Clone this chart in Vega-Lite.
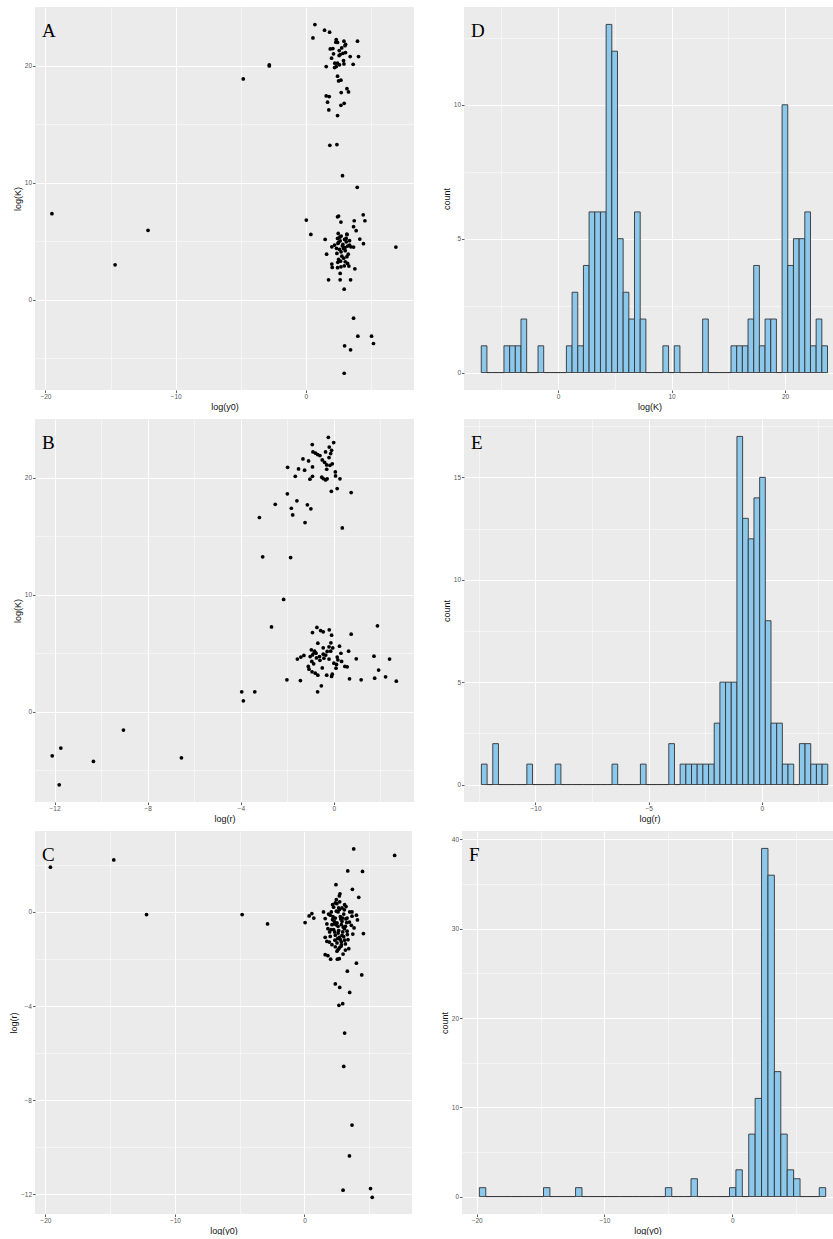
{
"$schema":"https://vega.github.io/schema/vega-lite/v6.json",
"background":"white",
"padding":{"left":9,"top":7,"right":0,"bottom":0},
"spacing":8,
"datasets":{
"A":[
{"y0":-19.5,"K":7.35},{"y0":-14.65,"K":2.99},{"y0":-12.12,"K":5.93},{"y0":-4.81,"K":18.86},{"y0":-2.81,"K":20.05},{"y0":-2.81,"K":19.97},
{"y0":0.69,"K":23.5},{"y0":0.54,"K":22.36},{"y0":1.43,"K":23.02},{"y0":1.82,"K":22.85},{"y0":2.33,"K":22.22},{"y0":2.43,"K":21.97},{"y0":2.92,"K":22.08},{"y0":3.96,"K":22.08},{"y0":3.0,"K":21.7},{"y0":1.87,"K":21.42},{"y0":2.07,"K":21.45},{"y0":2.56,"K":21.28},{"y0":2.12,"K":21.0},{"y0":2.84,"K":21.05},{"y0":3.04,"K":21.11},{"y0":3.4,"K":20.77},{"y0":4.04,"K":20.77},{"y0":1.97,"K":20.63},{"y0":2.63,"K":20.94},{"y0":2.89,"K":20.43},{"y0":2.43,"K":20.2},{"y0":2.58,"K":20.06},{"y0":2.33,"K":19.91},{"y0":2.2,"K":19.83},{"y0":1.56,"K":19.91},{"y0":3.63,"K":20.11},{"y0":2.92,"K":20.14},{"y0":2.43,"K":19.09},{"y0":2.69,"K":18.75},{"y0":2.51,"K":18.69},{"y0":3.15,"K":18.03},{"y0":3.27,"K":17.75},{"y0":2.71,"K":17.69},{"y0":1.56,"K":17.41},{"y0":1.79,"K":17.35},{"y0":1.66,"K":16.87},{"y0":2.94,"K":16.78},{"y0":2.69,"K":16.61},{"y0":1.76,"K":16.21},{"y0":2.43,"K":15.73},{"y0":1.84,"K":13.19},{"y0":2.38,"K":13.25},{"y0":2.81,"K":10.6},{"y0":3.94,"K":9.6},
{"y0":0.03,"K":6.81},{"y0":0.38,"K":5.58},{"y0":2.43,"K":7.09},{"y0":2.51,"K":7.15},{"y0":2.69,"K":6.64},{"y0":3.71,"K":6.75},{"y0":3.66,"K":6.24},{"y0":4.4,"K":7.26},{"y0":4.53,"K":6.75},{"y0":3.86,"K":5.9},{"y0":1.48,"K":5.16},{"y0":6.91,"K":4.5},{"y0":4.14,"K":5.19},{"y0":4.42,"K":4.79},{"y0":2.43,"K":5.24},{"y0":2.71,"K":5.44},{"y0":3.15,"K":5.56},{"y0":2.97,"K":5.16},{"y0":2.63,"K":5.04},{"y0":2.2,"K":4.67},{"y0":1.99,"K":4.53},{"y0":2.46,"K":4.81},{"y0":2.84,"K":4.73},{"y0":3.2,"K":4.59},{"y0":3.45,"K":4.53},{"y0":3.66,"K":4.5},{"y0":2.89,"K":4.39},{"y0":2.58,"K":4.3},{"y0":3.02,"K":4.19},{"y0":1.59,"K":3.9},{"y0":2.38,"K":3.96},{"y0":2.76,"K":3.73},{"y0":3.15,"K":3.68},{"y0":2.51,"K":3.45},{"y0":2.66,"K":3.3},{"y0":3.02,"K":3.25},{"y0":3.2,"K":3.11},{"y0":1.99,"K":3.05},{"y0":2.02,"K":2.76},{"y0":2.43,"K":2.74},{"y0":2.69,"K":2.82},{"y0":3.3,"K":2.88},{"y0":3.76,"K":2.65},{"y0":2.63,"K":2.25},{"y0":1.74,"K":1.71},{"y0":2.63,"K":1.71},{"y0":3.43,"K":1.71},{"y0":2.94,"K":0.91},{"y0":2.48,"K":5.67},{"y0":3.09,"K":5.24},{"y0":3.35,"K":4.67},
{"y0":3.66,"K":-1.57},{"y0":3.99,"K":-3.11},{"y0":5.04,"K":-3.11},{"y0":5.19,"K":-3.73},{"y0":2.97,"K":-3.93},{"y0":3.43,"K":-4.27},{"y0":2.94,"K":-6.27},
{"y0":2.22,"K":20.2},{"y0":3.05,"K":21.8},{"y0":2.75,"K":21.5},{"y0":2.5,"K":4.9},{"y0":2.8,"K":4.6},{"y0":3.1,"K":4.95},{"y0":2.35,"K":4.4},{"y0":2.9,"K":3.55},{"y0":3.25,"K":3.9},{"y0":2.6,"K":5.35},{"y0":3.0,"K":4.45},{"y0":2.7,"K":4.1},{"y0":3.35,"K":5.05},{"y0":2.45,"K":3.2},{"y0":2.95,"K":2.9},{"y0":3.15,"K":5.6},{"y0":2.3,"K":22.0},{"y0":2.55,"K":20.85}
],
"B":[
{"r":-12.1,"K":-3.76},{"r":-11.73,"K":-3.1},{"r":-11.8,"K":-6.23},{"r":-10.33,"K":-4.24},{"r":-9.04,"K":-1.56},{"r":-6.55,"K":-3.93},{"r":-3.96,"K":1.71},{"r":-3.89,"K":0.94},{"r":-3.4,"K":1.71},{"r":-2.16,"K":9.59},{"r":-2.68,"K":7.25},{"r":-3.06,"K":13.23},{"r":-1.86,"K":13.17},{"r":-3.2,"K":16.59},{"r":-2.52,"K":17.72},{"r":-2.0,"K":18.61},{"r":-1.83,"K":17.38},{"r":-1.77,"K":16.81},{"r":-1.59,"K":18.01},{"r":-1.24,"K":16.16},{"r":-1.14,"K":17.67},{"r":-0.99,"K":17.33},{"r":0.36,"K":15.7},{"r":0.74,"K":18.72},{"r":-0.11,"K":18.83},{"r":0.14,"K":19.06},
{"r":-1.99,"K":20.88},{"r":-1.66,"K":20.11},{"r":-1.52,"K":20.74},{"r":-1.33,"K":21.59},{"r":-1.26,"K":20.63},{"r":-1.09,"K":21.42},{"r":-1.03,"K":19.86},{"r":-0.92,"K":20.91},{"r":-0.93,"K":22.82},{"r":-0.9,"K":22.19},{"r":-0.79,"K":22.08},{"r":-0.7,"K":21.96},{"r":-0.6,"K":21.88},{"r":-0.92,"K":20.11},{"r":-0.5,"K":21.51},{"r":-0.36,"K":22.19},{"r":-0.24,"K":23.44},{"r":-0.01,"K":22.99},{"r":-0.1,"K":22.33},{"r":-0.14,"K":22.05},{"r":-0.21,"K":21.71},{"r":-0.31,"K":21.08},{"r":-0.07,"K":21.17},{"r":-0.17,"K":21.05},{"r":-0.31,"K":20.71},{"r":-0.52,"K":20.03},{"r":-0.46,"K":19.91},{"r":-0.36,"K":19.8},{"r":-0.29,"K":19.89},{"r":0.06,"K":20.48},{"r":0.07,"K":20.14},{"r":0.26,"K":19.89},
{"r":-0.73,"K":7.2},{"r":-0.92,"K":6.77},{"r":-0.57,"K":6.94},{"r":-0.46,"K":6.83},{"r":-0.2,"K":7.0},{"r":-0.1,"K":6.54},{"r":0.74,"K":6.63},{"r":1.87,"K":7.34},{"r":-0.69,"K":5.86},{"r":-0.13,"K":5.89},{"r":0.24,"K":5.6},{"r":-0.46,"K":5.46},{"r":-0.21,"K":5.55},{"r":-0.97,"K":5.29},{"r":-0.83,"K":5.18},{"r":-0.77,"K":5.01},{"r":-0.92,"K":4.86},{"r":-1.02,"K":4.72},{"r":-0.62,"K":4.72},{"r":-0.46,"K":4.92},{"r":-0.29,"K":5.15},{"r":-0.14,"K":5.18},{"r":0.63,"K":5.18},{"r":-1.29,"K":4.81},{"r":-1.42,"K":4.67},{"r":-1.57,"K":4.5},{"r":-0.43,"K":4.58},{"r":-0.21,"K":4.5},{"r":0.14,"K":4.67},{"r":0.17,"K":4.44},{"r":0.33,"K":4.3},{"r":0.96,"K":4.52},{"r":1.72,"K":4.75},{"r":2.39,"K":4.5},{"r":-0.87,"K":4.1},{"r":0.0,"K":4.15},{"r":0.11,"K":4.04},{"r":0.47,"K":3.87},{"r":0.57,"K":3.84},{"r":-1.1,"K":3.87},{"r":-1.07,"K":3.64},{"r":0.09,"K":3.73},{"r":1.92,"K":3.56},{"r":-0.94,"K":3.41},{"r":-0.8,"K":3.3},{"r":-0.69,"K":3.13},{"r":-0.31,"K":3.13},{"r":-0.07,"K":3.21},{"r":-0.1,"K":3.02},{"r":-2.02,"K":2.73},{"r":-1.44,"K":2.67},{"r":0.67,"K":2.82},{"r":1.17,"K":2.73},{"r":1.75,"K":2.87},{"r":2.22,"K":2.99},{"r":2.68,"K":2.62},{"r":-0.54,"K":2.22},{"r":-0.7,"K":1.71},
{"r":-0.85,"K":5.05},{"r":-0.6,"K":4.4},{"r":-0.35,"K":4.85},{"r":-0.05,"K":5.45},{"r":-0.95,"K":4.3},{"r":-0.5,"K":3.75},{"r":0.3,"K":5.0},{"r":-0.75,"K":4.6},{"r":-0.4,"K":21.3},{"r":-0.2,"K":22.6}
],
"C":[
{"y0":-19.61,"r":1.9},{"y0":-14.72,"r":2.21},{"y0":-12.19,"r":-0.11},{"y0":-4.81,"r":-0.11},{"y0":-2.85,"r":-0.51},{"y0":0.05,"r":-0.45},{"y0":0.36,"r":-0.17},{"y0":0.57,"r":-0.07},{"y0":0.72,"r":-0.26},{"y0":3.8,"r":2.68},{"y0":6.96,"r":2.4},{"y0":3.34,"r":1.74},{"y0":4.48,"r":1.72},{"y0":2.43,"r":1.16},{"y0":3.7,"r":0.96},{"y0":4.19,"r":0.62},{"y0":2.74,"r":0.77},{"y0":2.69,"r":0.68},{"y0":2.46,"r":0.52},{"y0":2.38,"r":0.38},{"y0":3.1,"r":0.31},{"y0":2.25,"r":0.2},{"y0":2.9,"r":0.17},{"y0":3.21,"r":0.23},{"y0":1.47,"r":0.0},{"y0":2.07,"r":0.0},{"y0":2.59,"r":0.0},{"y0":3.67,"r":0.0},{"y0":4.01,"r":-0.14},{"y0":4.09,"r":-0.34},{"y0":4.55,"r":-0.92},{"y0":3.83,"r":-0.68},{"y0":3.67,"r":-0.18},{"y0":3.47,"r":-0.43},{"y0":3.29,"r":-0.26},{"y0":1.6,"r":-0.28},{"y0":1.99,"r":-0.14},{"y0":2.38,"r":-0.26},{"y0":2.77,"r":-0.2},{"y0":3.03,"r":-0.09},{"y0":1.73,"r":-0.51},{"y0":2.12,"r":-0.54},{"y0":2.51,"r":-0.47},{"y0":2.85,"r":-0.54},{"y0":3.16,"r":-0.61},{"y0":3.62,"r":-0.57},{"y0":1.81,"r":-0.71},{"y0":2.25,"r":-0.75},{"y0":2.64,"r":-0.79},{"y0":2.95,"r":-0.85},{"y0":3.29,"r":-0.82},{"y0":3.73,"r":-0.94},{"y0":1.6,"r":-1.08},{"y0":1.99,"r":-1.04},{"y0":2.38,"r":-0.99},{"y0":2.69,"r":-1.08},{"y0":3.03,"r":-1.05},{"y0":3.36,"r":-1.18},{"y0":1.73,"r":-1.25},{"y0":1.92,"r":-1.28},{"y0":2.51,"r":-1.32},{"y0":2.85,"r":-1.28},{"y0":3.16,"r":-1.36},{"y0":2.38,"r":-1.48},{"y0":2.69,"r":-1.53},{"y0":3.42,"r":-1.56},{"y0":3.16,"r":-1.62},{"y0":2.51,"r":-1.67},{"y0":1.6,"r":-1.82},{"y0":1.81,"r":-1.86},{"y0":2.98,"r":-1.79},{"y0":2.02,"r":-2.01},{"y0":2.54,"r":-2.01},{"y0":2.69,"r":-1.99},{"y0":4.01,"r":-2.18},{"y0":3.31,"r":-2.52},{"y0":4.42,"r":-2.68},{"y0":2.38,"r":-3.06},{"y0":2.72,"r":-3.21},{"y0":3.49,"r":-3.42},{"y0":2.95,"r":-3.9},{"y0":2.66,"r":-3.97},{"y0":3.1,"r":-5.15},{"y0":3.03,"r":-6.57},{"y0":3.67,"r":-9.06},{"y0":3.47,"r":-10.37},{"y0":5.1,"r":-11.76},{"y0":5.23,"r":-12.13},{"y0":2.98,"r":-11.83},
{"y0":2.17,"r":-0.33},{"y0":2.59,"r":-0.61},{"y0":2.9,"r":-0.4},{"y0":2.33,"r":-0.85},{"y0":3.08,"r":-0.71},{"y0":2.77,"r":-1.18},{"y0":2.12,"r":-1.39},{"y0":3.31,"r":-0.96},{"y0":2.46,"r":0.03},{"y0":2.72,"r":0.43},{"y0":2.95,"r":-0.26},{"y0":1.94,"r":-0.85},{"y0":3.49,"r":0.0},{"y0":2.17,"r":0.31},{"y0":2.56,"r":-1.13},{"y0":1.86,"r":-0.09},{"y0":3.26,"r":-0.45},{"y0":2.82,"r":-1.46},{"y0":2.33,"r":-0.51},{"y0":3.08,"r":0.09},{"y0":2.64,"r":0.17},
{"y0":2.8,"r":-0.3},{"y0":2.6,"r":-0.9},{"y0":2.2,"r":-0.2},{"y0":3.1,"r":-1.2},{"y0":2.45,"r":-0.55},{"y0":2.9,"r":-1.0},{"y0":2.7,"r":0.1},{"y0":2.35,"r":-1.2},{"y0":3.2,"r":-0.3},{"y0":2.05,"r":-0.75},{"y0":2.6,"r":-1.6},{"y0":3.0,"r":-0.65},{"y0":2.5,"r":0.35},{"y0":2.85,"r":-1.4},{"y0":2.3,"r":-0.4}
],
"D":[
{"x0":-6.76,"x1":-6.26,"count":1},{"x0":-6.26,"x1":-5.76,"count":0},{"x0":-5.76,"x1":-5.26,"count":0},{"x0":-5.26,"x1":-4.76,"count":0},{"x0":-4.76,"x1":-4.26,"count":1},{"x0":-4.26,"x1":-3.76,"count":1},{"x0":-3.76,"x1":-3.26,"count":1},{"x0":-3.26,"x1":-2.76,"count":2},{"x0":-2.76,"x1":-2.26,"count":0},{"x0":-2.26,"x1":-1.76,"count":0},{"x0":-1.76,"x1":-1.26,"count":1},{"x0":-1.26,"x1":-0.76,"count":0},{"x0":-0.76,"x1":-0.26,"count":0},{"x0":-0.26,"x1":0.24,"count":0},{"x0":0.24,"x1":0.74,"count":0},{"x0":0.74,"x1":1.24,"count":1},{"x0":1.24,"x1":1.74,"count":3},{"x0":1.74,"x1":2.24,"count":1},{"x0":2.24,"x1":2.74,"count":4},{"x0":2.74,"x1":3.24,"count":6},{"x0":3.24,"x1":3.74,"count":6},{"x0":3.74,"x1":4.24,"count":6},{"x0":4.24,"x1":4.74,"count":13},{"x0":4.74,"x1":5.24,"count":12},{"x0":5.24,"x1":5.74,"count":5},{"x0":5.74,"x1":6.24,"count":3},{"x0":6.24,"x1":6.74,"count":2},{"x0":6.74,"x1":7.24,"count":6},{"x0":7.24,"x1":7.74,"count":2},{"x0":7.74,"x1":8.24,"count":0},{"x0":8.24,"x1":8.74,"count":0},{"x0":8.74,"x1":9.24,"count":0},{"x0":9.24,"x1":9.74,"count":1},{"x0":9.74,"x1":10.24,"count":0},{"x0":10.24,"x1":10.74,"count":1},{"x0":10.74,"x1":11.24,"count":0},{"x0":11.24,"x1":11.74,"count":0},{"x0":11.74,"x1":12.24,"count":0},{"x0":12.24,"x1":12.74,"count":0},{"x0":12.74,"x1":13.24,"count":2},{"x0":13.24,"x1":13.74,"count":0},{"x0":13.74,"x1":14.24,"count":0},{"x0":14.24,"x1":14.74,"count":0},{"x0":14.74,"x1":15.24,"count":0},{"x0":15.24,"x1":15.74,"count":1},{"x0":15.74,"x1":16.24,"count":1},{"x0":16.24,"x1":16.74,"count":1},{"x0":16.74,"x1":17.24,"count":2},{"x0":17.24,"x1":17.74,"count":4},{"x0":17.74,"x1":18.24,"count":1},{"x0":18.24,"x1":18.74,"count":2},{"x0":18.74,"x1":19.24,"count":2},{"x0":19.24,"x1":19.74,"count":0},{"x0":19.74,"x1":20.24,"count":10},{"x0":20.24,"x1":20.74,"count":4},{"x0":20.74,"x1":21.24,"count":5},{"x0":21.24,"x1":21.74,"count":5},{"x0":21.74,"x1":22.24,"count":6},{"x0":22.24,"x1":22.74,"count":1},{"x0":22.74,"x1":23.24,"count":2},{"x0":23.24,"x1":23.74,"count":1}
],
"E":[
{"x0":-12.39,"x1":-12.139,"count":1},{"x0":-12.139,"x1":-11.888,"count":0},{"x0":-11.888,"x1":-11.637,"count":2},{"x0":-11.637,"x1":-11.386,"count":0},{"x0":-11.386,"x1":-11.135,"count":0},{"x0":-11.135,"x1":-10.884,"count":0},{"x0":-10.884,"x1":-10.633,"count":0},{"x0":-10.633,"x1":-10.382,"count":0},{"x0":-10.382,"x1":-10.131,"count":1},{"x0":-10.131,"x1":-9.88,"count":0},{"x0":-9.88,"x1":-9.629,"count":0},{"x0":-9.629,"x1":-9.378,"count":0},{"x0":-9.378,"x1":-9.127,"count":0},{"x0":-9.127,"x1":-8.876,"count":1},{"x0":-8.876,"x1":-8.625,"count":0},{"x0":-8.625,"x1":-8.374,"count":0},{"x0":-8.374,"x1":-8.123,"count":0},{"x0":-8.123,"x1":-7.872,"count":0},{"x0":-7.872,"x1":-7.621,"count":0},{"x0":-7.621,"x1":-7.37,"count":0},{"x0":-7.37,"x1":-7.119,"count":0},{"x0":-7.119,"x1":-6.868,"count":0},{"x0":-6.868,"x1":-6.617,"count":0},{"x0":-6.617,"x1":-6.366,"count":1},{"x0":-6.366,"x1":-6.115,"count":0},{"x0":-6.115,"x1":-5.864,"count":0},{"x0":-5.864,"x1":-5.613,"count":0},{"x0":-5.613,"x1":-5.362,"count":0},{"x0":-5.362,"x1":-5.111,"count":1},{"x0":-5.111,"x1":-4.86,"count":0},{"x0":-4.86,"x1":-4.609,"count":0},{"x0":-4.609,"x1":-4.358,"count":0},{"x0":-4.358,"x1":-4.107,"count":0},{"x0":-4.107,"x1":-3.856,"count":2},{"x0":-3.856,"x1":-3.605,"count":0},{"x0":-3.605,"x1":-3.354,"count":1},{"x0":-3.354,"x1":-3.103,"count":1},{"x0":-3.103,"x1":-2.852,"count":1},{"x0":-2.852,"x1":-2.601,"count":1},{"x0":-2.601,"x1":-2.35,"count":1},{"x0":-2.35,"x1":-2.099,"count":1},{"x0":-2.099,"x1":-1.848,"count":3},{"x0":-1.848,"x1":-1.597,"count":5},{"x0":-1.597,"x1":-1.346,"count":5},{"x0":-1.346,"x1":-1.095,"count":5},{"x0":-1.095,"x1":-0.844,"count":17},{"x0":-0.844,"x1":-0.593,"count":13},{"x0":-0.593,"x1":-0.342,"count":12},{"x0":-0.342,"x1":-0.091,"count":14},{"x0":-0.091,"x1":0.16,"count":15},{"x0":0.16,"x1":0.411,"count":8},{"x0":0.411,"x1":0.662,"count":3},{"x0":0.662,"x1":0.913,"count":3},{"x0":0.913,"x1":1.164,"count":1},{"x0":1.164,"x1":1.415,"count":1},{"x0":1.415,"x1":1.666,"count":0},{"x0":1.666,"x1":1.917,"count":2},{"x0":1.917,"x1":2.168,"count":2},{"x0":2.168,"x1":2.419,"count":1},{"x0":2.419,"x1":2.67,"count":1},{"x0":2.67,"x1":2.921,"count":1}
],
"F":[
{"x0":-19.79,"x1":-19.288,"count":1},{"x0":-19.288,"x1":-18.786,"count":0},{"x0":-18.786,"x1":-18.284,"count":0},{"x0":-18.284,"x1":-17.782,"count":0},{"x0":-17.782,"x1":-17.28,"count":0},{"x0":-17.28,"x1":-16.778,"count":0},{"x0":-16.778,"x1":-16.276,"count":0},{"x0":-16.276,"x1":-15.774,"count":0},{"x0":-15.774,"x1":-15.272,"count":0},{"x0":-15.272,"x1":-14.77,"count":0},{"x0":-14.77,"x1":-14.268,"count":1},{"x0":-14.268,"x1":-13.766,"count":0},{"x0":-13.766,"x1":-13.264,"count":0},{"x0":-13.264,"x1":-12.762,"count":0},{"x0":-12.762,"x1":-12.26,"count":0},{"x0":-12.26,"x1":-11.758,"count":1},{"x0":-11.758,"x1":-11.256,"count":0},{"x0":-11.256,"x1":-10.754,"count":0},{"x0":-10.754,"x1":-10.252,"count":0},{"x0":-10.252,"x1":-9.75,"count":0},{"x0":-9.75,"x1":-9.248,"count":0},{"x0":-9.248,"x1":-8.746,"count":0},{"x0":-8.746,"x1":-8.244,"count":0},{"x0":-8.244,"x1":-7.742,"count":0},{"x0":-7.742,"x1":-7.24,"count":0},{"x0":-7.24,"x1":-6.738,"count":0},{"x0":-6.738,"x1":-6.236,"count":0},{"x0":-6.236,"x1":-5.734,"count":0},{"x0":-5.734,"x1":-5.232,"count":0},{"x0":-5.232,"x1":-4.73,"count":1},{"x0":-4.73,"x1":-4.228,"count":0},{"x0":-4.228,"x1":-3.726,"count":0},{"x0":-3.726,"x1":-3.224,"count":0},{"x0":-3.224,"x1":-2.722,"count":2},{"x0":-2.722,"x1":-2.22,"count":0},{"x0":-2.22,"x1":-1.718,"count":0},{"x0":-1.718,"x1":-1.216,"count":0},{"x0":-1.216,"x1":-0.714,"count":0},{"x0":-0.714,"x1":-0.212,"count":0},{"x0":-0.212,"x1":0.29,"count":1},{"x0":0.29,"x1":0.792,"count":3},{"x0":0.792,"x1":1.294,"count":0},{"x0":1.294,"x1":1.796,"count":7},{"x0":1.796,"x1":2.298,"count":11},{"x0":2.298,"x1":2.8,"count":39},{"x0":2.8,"x1":3.302,"count":36},{"x0":3.302,"x1":3.804,"count":14},{"x0":3.804,"x1":4.306,"count":7},{"x0":4.306,"x1":4.808,"count":3},{"x0":4.808,"x1":5.31,"count":2},{"x0":5.31,"x1":5.812,"count":0},{"x0":5.812,"x1":6.314,"count":0},{"x0":6.314,"x1":6.816,"count":0},{"x0":6.816,"x1":7.318,"count":1}
]
},
"vconcat":[
{"hconcat":[
{"width":379,"height":383,"title":"A","data":{"name":"A"},
"mark":{"type":"circle","size":14,"color":"black","opacity":1},
"encoding":{
"x":{"field":"y0","type":"quantitative","title":"log(y0)","scale":{"domain":[-20.8,8.3],"nice":false,"zero":false},
"axis":{"values":[-20,-15,-10,-5,0,5],"labelExpr":"datum.value % 10 === 0 ? datum.label : ''","gridWidth":{"condition":{"test":"datum.value % 10 !== 0","value":0.5},"value":1},"tickOpacity":{"condition":{"test":"datum.value % 10 !== 0","value":0},"value":1}}},
"y":{"field":"K","type":"quantitative","title":"log(K)","scale":{"domain":[-7.7,25],"nice":false,"zero":false},
"axis":{"values":[-5,0,5,10,15,20],"labelExpr":"datum.value % 10 === 0 ? datum.label : ''","gridWidth":{"condition":{"test":"datum.value % 10 !== 0","value":0.5},"value":1},"tickOpacity":{"condition":{"test":"datum.value % 10 !== 0","value":0},"value":1}}}}},
{"width":371,"height":383,"title":"D","data":{"name":"D"},
"mark":{"type":"rect","fill":"#8BC8EC","stroke":"#333333","strokeWidth":0.9},
"encoding":{
"x":{"field":"x0","type":"quantitative","title":"log(K)","scale":{"domain":[-8.28,24.4],"nice":false,"zero":false},
"axis":{"values":[-5,0,5,10,15,20],"labelExpr":"datum.value % 10 === 0 ? datum.label : ''","gridWidth":{"condition":{"test":"datum.value % 10 !== 0","value":0.5},"value":1},"tickOpacity":{"condition":{"test":"datum.value % 10 !== 0","value":0},"value":1}}},
"x2":{"field":"x1"},
"y":{"field":"count","type":"quantitative","title":"count","scale":{"domain":[-0.65,13.65],"nice":false,"zero":false},
"axis":{"values":[0,2.5,5,7.5,10,12.5],"labelExpr":"datum.value % 5 === 0 ? datum.label : ''","gridWidth":{"condition":{"test":"datum.value % 5 !== 0","value":0.5},"value":1},"tickOpacity":{"condition":{"test":"datum.value % 5 !== 0","value":0},"value":1}}},
"y2":{"datum":0}}}
]},
{"hconcat":[
{"width":379,"height":383,"title":"B","data":{"name":"B"},
"mark":{"type":"circle","size":14,"color":"black","opacity":1},
"encoding":{
"x":{"field":"r","type":"quantitative","title":"log(r)","scale":{"domain":[-12.84,3.44],"nice":false,"zero":false},
"axis":{"values":[-12,-10,-8,-6,-4,-2,0,2],"labelExpr":"datum.value % 4 === 0 ? datum.label : ''","gridWidth":{"condition":{"test":"datum.value % 4 !== 0","value":0.5},"value":1},"tickOpacity":{"condition":{"test":"datum.value % 4 !== 0","value":0},"value":1}}},
"y":{"field":"K","type":"quantitative","title":"log(K)","scale":{"domain":[-7.7,25],"nice":false,"zero":false},
"axis":{"values":[-5,0,5,10,15,20],"labelExpr":"datum.value % 10 === 0 ? datum.label : ''","gridWidth":{"condition":{"test":"datum.value % 10 !== 0","value":0.5},"value":1},"tickOpacity":{"condition":{"test":"datum.value % 10 !== 0","value":0},"value":1}}}}},
{"width":371,"height":383,"title":"E","data":{"name":"E"},
"mark":{"type":"rect","fill":"#8BC8EC","stroke":"#333333","strokeWidth":0.9},
"encoding":{
"x":{"field":"x0","type":"quantitative","title":"log(r)","scale":{"domain":[-13.16,3.24],"nice":false,"zero":false},
"axis":{"values":[-12.5,-10,-7.5,-5,-2.5,0,2.5],"labelExpr":"datum.value % 5 === 0 ? datum.label : ''","gridWidth":{"condition":{"test":"datum.value % 5 !== 0","value":0.5},"value":1},"tickOpacity":{"condition":{"test":"datum.value % 5 !== 0","value":0},"value":1}}},
"x2":{"field":"x1"},
"y":{"field":"count","type":"quantitative","title":"count","scale":{"domain":[-0.85,17.85],"nice":false,"zero":false},
"axis":{"values":[0,2.5,5,7.5,10,12.5,15,17.5],"labelExpr":"datum.value % 5 === 0 ? datum.label : ''","gridWidth":{"condition":{"test":"datum.value % 5 !== 0","value":0.5},"value":1},"tickOpacity":{"condition":{"test":"datum.value % 5 !== 0","value":0},"value":1}}},
"y2":{"datum":0}}}
]},
{"hconcat":[
{"width":377,"height":383,"title":"C","data":{"name":"C"},
"mark":{"type":"circle","size":14,"color":"black","opacity":1},
"encoding":{
"x":{"field":"y0","type":"quantitative","title":"log(y0)","scale":{"domain":[-20.8,8.3],"nice":false,"zero":false},
"axis":{"values":[-20,-15,-10,-5,0,5],"labelExpr":"datum.value % 10 === 0 ? datum.label : ''","gridWidth":{"condition":{"test":"datum.value % 10 !== 0","value":0.5},"value":1},"tickOpacity":{"condition":{"test":"datum.value % 10 !== 0","value":0},"value":1}}},
"y":{"field":"r","type":"quantitative","title":"log(r)","scale":{"domain":[-12.84,3.44],"nice":false,"zero":false},
"axis":{"values":[-12,-10,-8,-6,-4,-2,0,2],"labelExpr":"datum.value % 4 === 0 ? datum.label : ''","gridWidth":{"condition":{"test":"datum.value % 4 !== 0","value":0.5},"value":1},"tickOpacity":{"condition":{"test":"datum.value % 4 !== 0","value":0},"value":1}}}}},
{"width":371,"height":383,"title":"F","data":{"name":"F"},
"mark":{"type":"rect","fill":"#8BC8EC","stroke":"#333333","strokeWidth":0.9},
"encoding":{
"x":{"field":"x0","type":"quantitative","title":"log(y0)","scale":{"domain":[-21.15,7.89],"nice":false,"zero":false},
"axis":{"values":[-20,-15,-10,-5,0,5],"labelExpr":"datum.value % 10 === 0 ? datum.label : ''","gridWidth":{"condition":{"test":"datum.value % 10 !== 0","value":0.5},"value":1},"tickOpacity":{"condition":{"test":"datum.value % 10 !== 0","value":0},"value":1}}},
"x2":{"field":"x1"},
"y":{"field":"count","type":"quantitative","title":"count","scale":{"domain":[-1.95,40.95],"nice":false,"zero":false},
"axis":{"values":[0,5,10,15,20,25,30,35,40],"labelExpr":"datum.value % 10 === 0 ? datum.label : ''","gridWidth":{"condition":{"test":"datum.value % 10 !== 0","value":0.5},"value":1},"tickOpacity":{"condition":{"test":"datum.value % 10 !== 0","value":0},"value":1}}},
"y2":{"datum":0}}}
]}
],
"config":{
"view":{"fill":"#EBEBEB","stroke":null},
"concat":{"spacing":28},
"axis":{"domain":false,"grid":true,"gridColor":"white","tickColor":"#333333","tickSize":2.5,"tickWidth":0.8,"labelFont":"Liberation Sans","labelFontSize":6.5,"labelColor":"#555555","labelPadding":1,"labelFlush":false,"labelOverlap":false,"titleFont":"Liberation Sans","titleFontSize":9,"titleFontWeight":"normal","titleColor":"#111111","titlePadding":2},
"title":{"anchor":"start","frame":"group","orient":"top","offset":-34,"dx":7,"fontSize":19,"font":"Liberation Serif","fontWeight":"normal","color":"black","baseline":"alphabetic"}
}
}
